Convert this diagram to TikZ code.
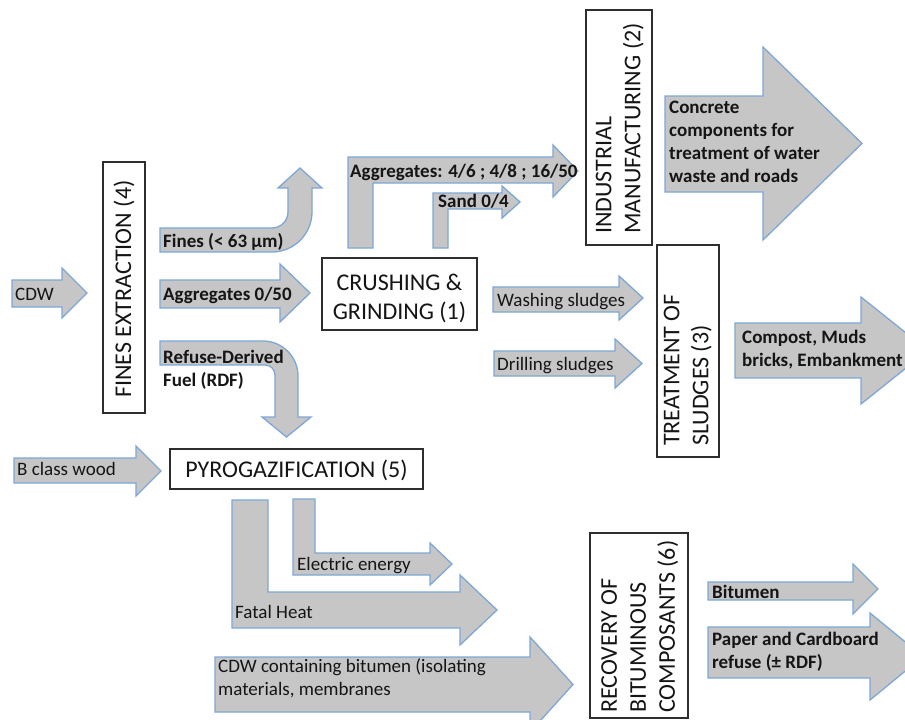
\documentclass[tikz,border=0pt]{standalone}
\usepackage{fontspec}
\setmainfont{Carlito}
\definecolor{arrfill}{HTML}{C6C6C6}
\definecolor{arredge}{HTML}{7EA6D6}
\definecolor{boxedge}{HTML}{2E2E2E}
\definecolor{txt}{HTML}{151515}
% straight block arrow: xleft, body top, body bottom, head base x, head top, head bottom, tip x
\newcommand\hArrow[7]{\path[blk] (#1,#2) -- (#4,#2) -- (#4,#5) -- (#7,{(#5+#6)/2}) -- (#4,#6) -- (#4,#3) -- (#1,#3) -- cycle;}
\newcommand\lnsL[1]{\begin{tabular}[t]{@{}l@{}}#1\end{tabular}}
\newcommand\lnsC[1]{\begin{tabular}[t]{@{}c@{}}#1\end{tabular}}
\begin{document}
\begin{tikzpicture}[x=1pt,y=-1pt,
  blk/.style={fill=arrfill, draw=arredge, line width=1.3pt, line join=miter},
  procbox/.style={draw=boxedge, line width=1.3pt, fill=white, inner sep=0pt},
  lbl/.style={inner sep=0pt, anchor=base west, font=\fontsize{19}{23}\selectfont, text=txt},
  blbl/.style={inner sep=0pt, anchor=base west, font=\fontsize{19}{23}\selectfont\bfseries, text=txt},
  btxt/.style={inner sep=0pt, font=\fontsize{24}{29}\selectfont, text=txt}]
\clip (0,0) rectangle (905,720);
\fill[white] (0,0) rectangle (905,720);

% ---------- block arrows ----------
\hArrow{12}{280}{307}{62}{268}{318}{87}        % CDW
\hArrow{160}{280}{308}{280}{264}{322}{310}     % Aggregates 0/50
\hArrow{493}{287}{312}{619}{276}{320}{643}     % Washing sludges
\hArrow{494}{351}{376}{615}{339}{388}{642}     % Drilling sludges
\hArrow{665}{96}{192}{763}{47}{240}{862}       % Concrete components
\hArrow{735}{323}{378}{861}{297}{404}{928}     % Compost
\hArrow{14}{458}{483}{136}{446}{496}{161}      % B class wood
\hArrow{215}{657}{712}{530}{637}{732}{573}     % CDW containing bitumen
\hArrow{708}{582}{600}{853}{564}{614}{878}     % Bitumen
\hArrow{708}{627}{678}{870}{613}{700}{923}     % Paper and Cardboard

% Fines: right then up
\path[blk] (160,252) -- (272,252) .. controls (294,252) and (312,234) .. (312,212)
  -- (312,188) -- (322,188) -- (300,168) -- (278,188) -- (288,188) -- (288,212)
  .. controls (288,220.8) and (280.8,228) .. (272,228) -- (160,228) -- cycle;
% RDF: right then down
\path[blk] (160,341) -- (263,341) .. controls (282.3,341) and (298,356.7) .. (298,376)
  -- (298,417) -- (311,417) -- (286.5,437) -- (262,417) -- (275,417) -- (275,375)
  .. controls (275,369.5) and (270.5,365) .. (265,365) -- (160,365) -- cycle;
% Aggregates 4/6 ; 4/8 ; 16/50: up then right
\path[blk] (348,248) -- (348,157) -- (553,157) -- (553,145) -- (578,171) -- (553,197)
  -- (553,183) -- (373,183) -- (373,248) -- cycle;
% Sand 0/4: up then right
\path[blk] (433,248) -- (433,193) -- (502,193) -- (502,186) -- (520,202) -- (502,218)
  -- (502,209) -- (448,209) -- (448,248) -- cycle;
% Fatal heat: down then right
\path[blk] (232,500) -- (232,628) -- (460,628) -- (460,645) -- (497,610) -- (460,575)
  -- (460,592) -- (268,592) -- (268,500) -- cycle;
% Electric energy: down then right
\path[blk] (293,499) -- (293,575) -- (430,575) -- (430,585) -- (452,564) -- (430,543)
  -- (430,553) -- (315,553) -- (315,499) -- cycle;

% ---------- process boxes ----------
\node[procbox, minimum width=42, minimum height=251] (fines) at (124,287.5) {};
\node[btxt, rotate=90, anchor=west] (finesT) at (124,398) {FINES EXTRACTION (4)};

\node[procbox, minimum width=155, minimum height=72] (crush) at (399.5,294) {};
\node[btxt, anchor=base] (crushT) at (399.5,290) {\lnsC{CRUSHING \&\\GRINDING (1)}};

\node[procbox, minimum width=66, minimum height=235] (indus) at (619,127.5) {};
\node[btxt, rotate=90, anchor=west] (indusT) at (620,234) {\lnsL{INDUSTRIAL\\MANUFACTURING (2)}};

\node[procbox, minimum width=62, minimum height=212] (sludge) at (688,351) {};
\node[btxt, rotate=90, anchor=west] (sludgeT) at (688,446) {\lnsL{TREATMENT OF\\SLUDGES (3)}};

\node[procbox, minimum width=253, minimum height=40] (pyro) at (296.5,469) {};
\node[btxt] (pyroT) at (296.5,470) {PYROGAZIFICATION (5)};

\node[procbox, minimum width=98, minimum height=185] (recov) at (639,625.5) {};
\node[btxt, rotate=90, anchor=west] (recovT) at (640,713) {\lnsL{RECOVERY OF\\BITUMINOUS\\COMPOSANTS (6)}};

% ---------- arrow labels ----------
\node[lbl] (lcdw) at (15,300) {CDW};
\node[blbl] (lfines) at (163,247) {Fines (< 63 µm)};
\node[blbl] (lagg) at (163,300) {Aggregates 0/50};
\node[blbl] (lrdf) at (163,363) {\lnsL{Refuse-Derived\\Fuel (RDF)}};
\node[blbl] (lagg2) at (350,177) {Aggregates: 4/6 ; 4/8 ; 16/50};
\node[blbl] (lsand) at (438,207) {Sand 0/4};
\node[blbl] (lconc) at (669,113) {\lnsL{Concrete\\components for\\treatment of water\\waste and roads}};
\node[lbl] (lwash) at (497,306) {Washing sludges};
\node[lbl] (ldrill) at (497,370) {Drilling sludges};
\node[blbl] (lcomp) at (742,343) {\lnsL{Compost, Muds\\bricks, Embankment}};
\node[lbl] (lwood) at (17,475) {B class wood};
\node[lbl] (lelec) at (297,570) {Electric energy};
\node[lbl] (lheat) at (235,618) {Fatal Heat};
\node[lbl] (lcdwb) at (218,672) {\lnsL{CDW containing bitumen (isolating\\materials, membranes}};
\node[blbl] (lbit) at (712,598) {Bitumen};
\node[blbl] (lpaper) at (712,645) {\lnsL{Paper and Cardboard\\refuse (± RDF)}};
\end{tikzpicture}
\end{document}
